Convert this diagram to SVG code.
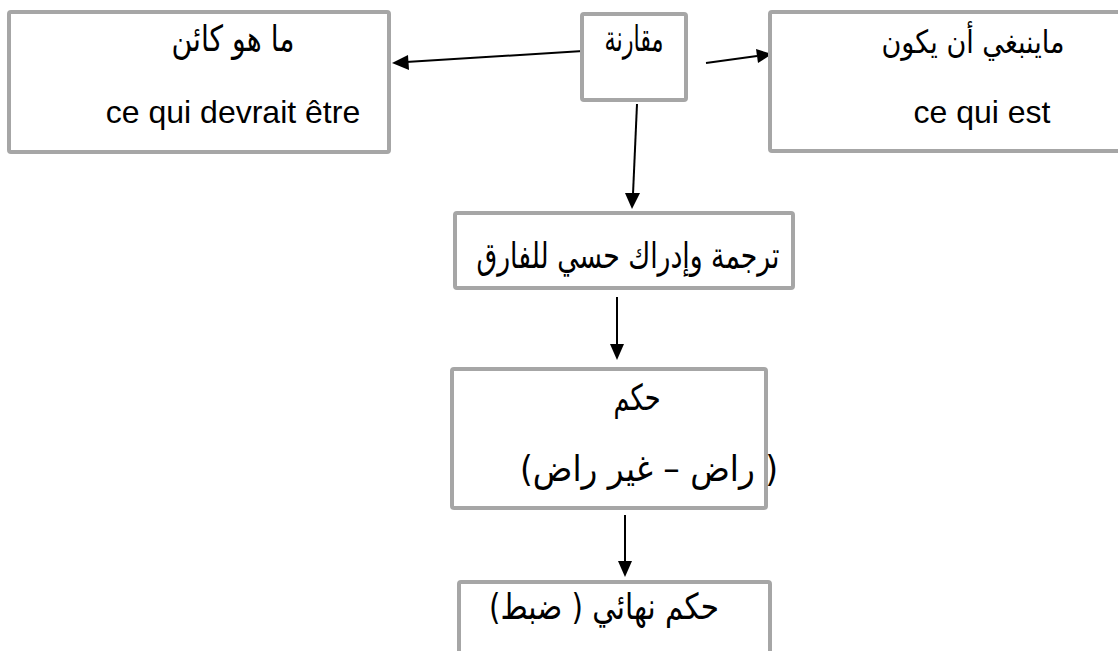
<svg xmlns="http://www.w3.org/2000/svg" width="1118" height="651" viewBox="0 0 1118 651">
<style>
.box{fill:#ffffff;stroke:#a6a6a6;stroke-width:4}
.ar{font-family:"DejaVu Sans","Liberation Sans",sans-serif;font-size:36px;fill:#000;direction:rtl}
.lat{font-family:"Liberation Sans",Arial,sans-serif;font-size:32px;fill:#000}
.con{stroke:#000;stroke-width:2;fill:none}
.head{fill:#000;stroke:none}
</style>
<rect width="1118" height="651" fill="#ffffff"/>
<g id="connectors">
<line class="con" x1="583" y1="51" x2="406" y2="62"/>
<path class="head" d="M392,63 L408,55 L409,70 z"/>
<line class="con" x1="706" y1="63" x2="757" y2="56"/>
<path class="head" d="M772,54 L756,49 L758,63 z"/>
<line class="con" x1="637" y1="104" x2="633" y2="194"/>
<path class="head" d="M632,209 L625,193 L640,193 z"/>
<line class="con" x1="617" y1="297" x2="617" y2="345"/>
<path class="head" d="M617,360 L610,344 L624,344 z"/>
<line class="con" x1="625" y1="515" x2="625" y2="562"/>
<path class="head" d="M625,577 L618,561 L632,561 z"/>
</g>
<g id="node-kain">
<rect class="box" x="9" y="12" width="380" height="140" rx="2"/>
<text class="ar" x="233" y="51" text-anchor="middle" textLength="123" lengthAdjust="spacingAndGlyphs">ما هو كائن</text>
<text class="lat" x="233" y="123" text-anchor="middle">ce qui devrait être</text>
</g>
<g id="node-muqarana">
<rect class="box" x="582" y="14" width="104" height="86" rx="2"/>
<text class="ar" x="634" y="51" text-anchor="middle" textLength="59" lengthAdjust="spacingAndGlyphs">مقارنة</text>
</g>
<g id="node-yanbaghi">
<rect class="box" x="770" y="12" width="352" height="139" rx="2"/>
<text class="ar" x="973" y="53" text-anchor="middle" style="font-size:32px" textLength="183" lengthAdjust="spacingAndGlyphs">ماينبغي أن يكون</text>
<text class="lat" x="982" y="123" text-anchor="middle">ce qui est</text>
</g>
<g id="node-tarjama">
<rect class="box" x="455" y="213" width="338" height="75" rx="2"/>
<text class="ar" x="628" y="268" text-anchor="middle" textLength="303" lengthAdjust="spacingAndGlyphs">ترجمة وإدراك حسي للفارق</text>
</g>
<g id="node-hukm">
<rect class="box" x="452" y="369" width="314" height="139" rx="2"/>
<text class="ar" x="637" y="410" text-anchor="middle" textLength="47" lengthAdjust="spacingAndGlyphs">حكم</text>
<text class="ar" x="649" y="481" text-anchor="middle" textLength="258" lengthAdjust="spacingAndGlyphs">( راض – غير راض)</text>
</g>
<g id="node-nihai">
<rect class="box" x="459" y="582" width="311" height="80" rx="2"/>
<text class="ar" x="604" y="619" text-anchor="middle" textLength="230" lengthAdjust="spacingAndGlyphs">حكم نهائي ( ضبط)</text>
</g>
</svg>
